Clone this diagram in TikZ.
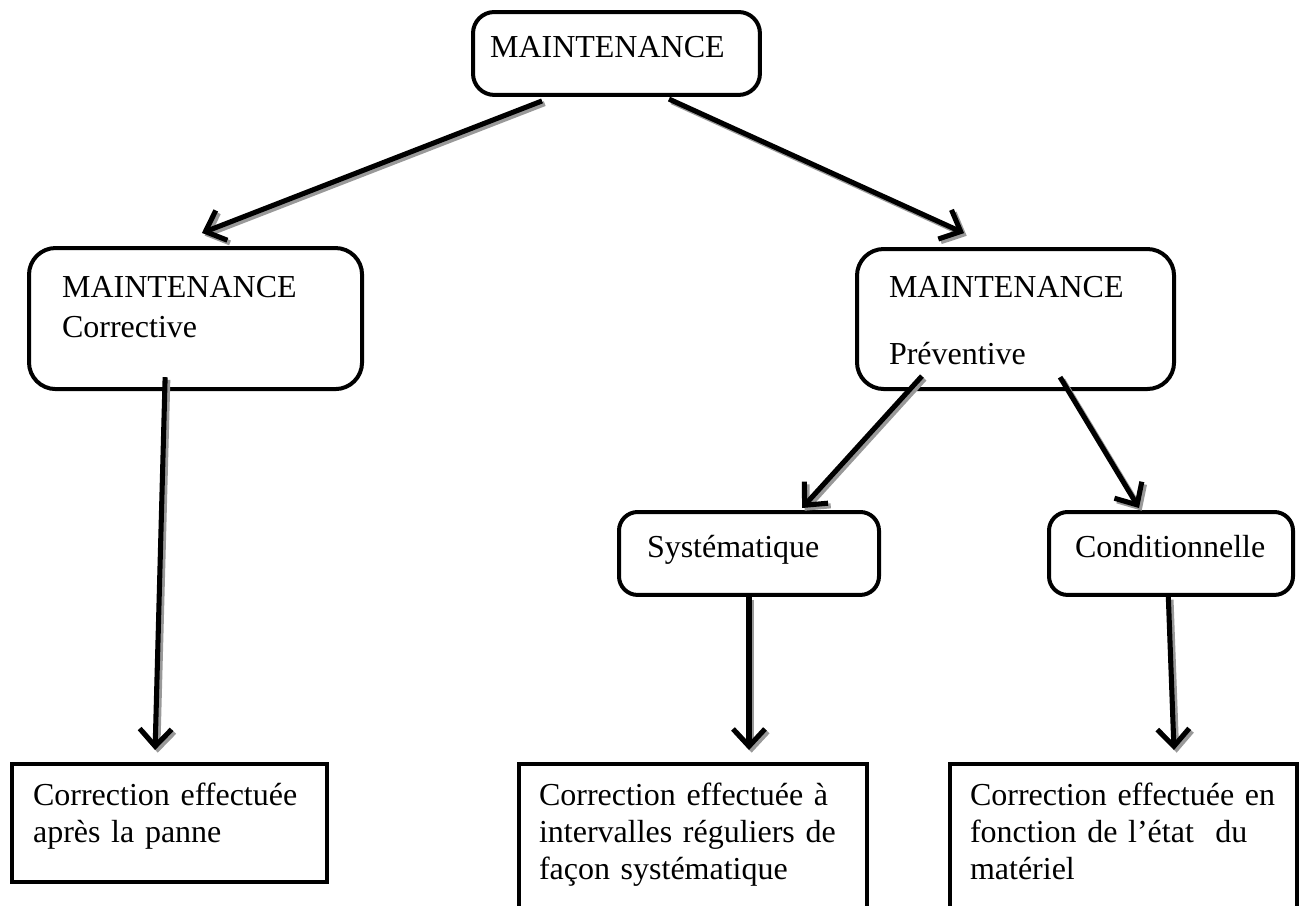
\documentclass[tikz,border=0pt]{standalone}
\usepackage{fontspec}
\setmainfont{Liberation Serif}
\usetikzlibrary{arrows.meta}

\tikzset{
  box/.style={draw, line width=1.5pt, anchor=north west, align=left,
    inner ysep=0pt, font=\fontsize{12pt}{13.875pt}\selectfont},
  rbox/.style={box, rounded corners=8pt},
  conn/.style={line width=1.9pt, -{Straight Barb[length=6.5pt,width=12pt]},
    preaction={draw=black!40, line width=1.9pt, transform canvas={shift={(1pt,-1pt)}}}}
}

\begin{document}
\begin{tikzpicture}[x=0.375pt,y=-0.375pt]
  \useasboundingbox (0,0) rectangle (1314,905);

  % top level
  \node[rbox, inner xsep=6.4pt, text width=94.8pt, text height=16.9pt, text depth=14.2pt]
    (top) at (471,10) {MAINTENANCE};

  % two kinds
  \node[rbox, rounded corners=10pt, inner xsep=12.4pt, text width=100.1pt,
        text height=18.4pt, text depth=34.5pt]
    (corr) at (27,246) {MAINTENANCE\\[1.4pt]Corrective};
  \node[rbox, rounded corners=10pt, inner xsep=12pt, text width=94.9pt,
        text height=18pt, text depth=34.5pt]
    (prev) at (855,247) {MAINTENANCE\\[11.6pt]Préventive};

  % preventive split
  \node[rbox, rounded corners=7pt, inner xsep=10.5pt, text width=76.5pt,
        text height=16.9pt, text depth=14.2pt]
    (sys) at (617,510) {Systématique};
  \node[rbox, rounded corners=7pt, inner xsep=9.75pt, text width=72pt,
        text height=16.9pt, text depth=14.2pt]
    (cond) at (1047,510) {Conditionnelle};

  % results
  \node[box, inner xsep=7.9pt, text width=102.3pt, text height=15.4pt, text depth=28.9pt]
    (res1) at (10,762) {Correction effectuée\\après la panne};
  \node[box, inner xsep=7.5pt, text width=115.5pt, text height=15.4pt, text depth=41pt]
    (res2) at (517,762) {Correction effectuée à\\intervalles réguliers de\\façon systématique};
  \node[box, inner xsep=7.5pt, text width=115pt, text height=15.4pt, text depth=41pt]
    (res3) at (948,762) {Correction effectuée en\\fonction de l’état\ \ du\\matériel};

  % arrows
  \draw[conn] ([xshift=-27.9pt,yshift=-1.5pt]top.south) -- ([xshift=2.4pt,yshift=4.9pt]corr.north);
  \draw[conn] ([xshift=19.7pt,yshift=-0.8pt]top.south) -- ([xshift=-19.3pt,yshift=5.2pt]prev.north);
  \draw[conn] ([xshift=-11.4pt,yshift=5.2pt]corr.south) -- ([xshift=-5.4pt,yshift=4.5pt]res1.north);
  \draw[conn] ([xshift=-35.1pt,yshift=5.6pt]prev.south) -- ([xshift=19.9pt,yshift=0.75pt]sys.north);
  \draw[conn] ([xshift=16.7pt,yshift=5.2pt]prev.south) -- ([xshift=-12pt,yshift=0.75pt]cond.north);
  \draw[conn] (sys.south) -- ([xshift=21pt,yshift=4.5pt]res2.north);
  \draw[conn] ([xshift=-1pt]cond.south) -- ([xshift=19pt,yshift=4.5pt]res3.north);
\end{tikzpicture}
\end{document}
